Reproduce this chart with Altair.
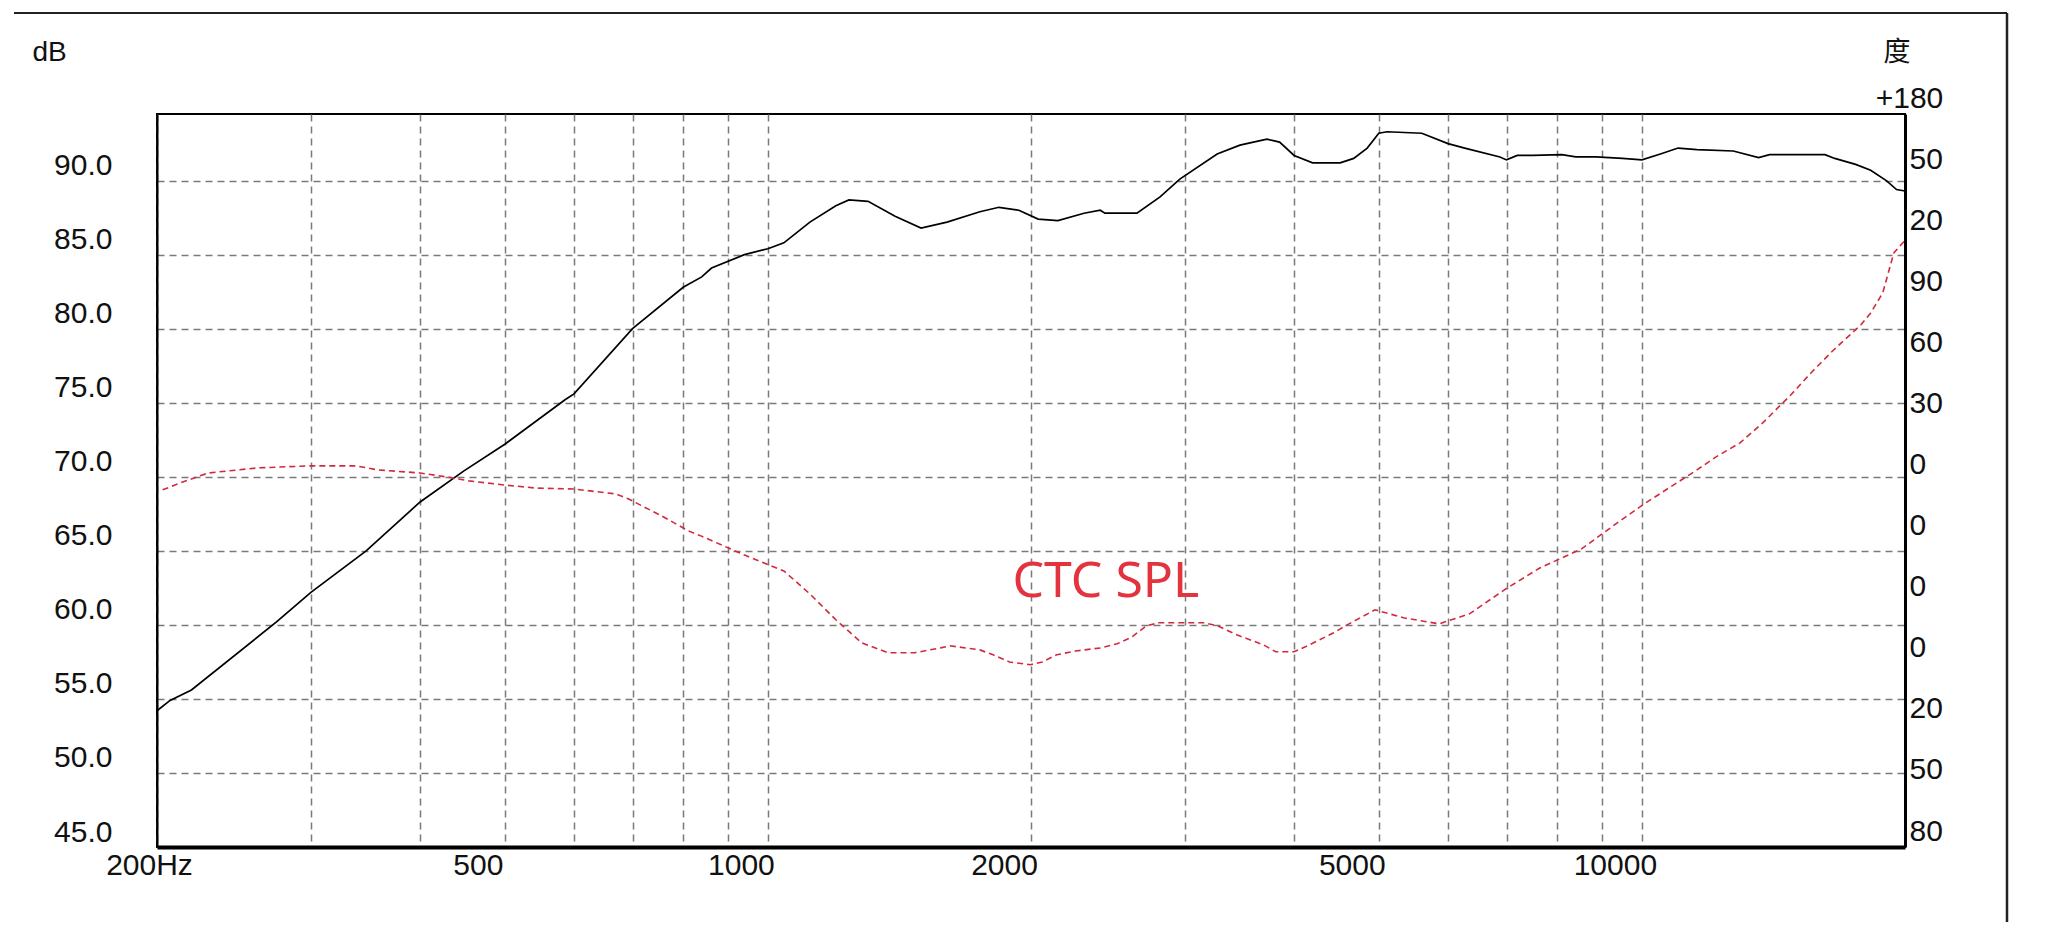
import altair as alt
import pandas as pd

# ---- data ----
spl_freq = [200, 207, 219, 274, 300, 347, 400, 449, 500, 586, 600, 700, 800, 840, 862, 940, 1000,
            1043, 1117, 1196, 1238, 1302, 1398, 1497, 1603, 1748, 1838, 1937, 2038, 2147, 2300,
            2400, 2430, 2644, 2810, 2960, 3266, 3468, 3724, 3850, 4000, 4200, 4516, 4680, 4850,
            5000, 5110, 5600, 6000, 6270, 6880, 7000, 7200, 7500, 8100, 8400, 8860, 9500, 10000,
            10500, 11000, 11560, 12720, 13600, 14000, 16200, 16620, 17560, 18270, 19040, 19560, 20000]
spl_db = [54.2, 54.9, 55.6, 60.2, 62.2, 65.0, 68.3, 70.4, 72.2, 75.2, 75.6, 80.0, 82.8, 83.5, 84.1, 85.0, 85.4,
          85.8, 87.2, 88.3, 88.7, 88.6, 87.6, 86.8, 87.2, 87.9, 88.2, 88.0, 87.4, 87.3, 87.8,
          88.0, 87.8, 87.8, 88.9, 90.1, 91.8, 92.4, 92.8, 92.6, 91.7, 91.2, 91.2, 91.5, 92.2,
          93.2, 93.3, 93.2, 92.5, 92.2, 91.6, 91.4, 91.7, 91.7, 91.75, 91.6, 91.6, 91.5, 91.4,
          91.8, 92.2, 92.1, 92.0, 91.55, 91.75, 91.75, 91.5, 91.1, 90.7, 90.0, 89.4, 89.3]

phase_freq = [203, 214, 229, 261, 300, 338, 358, 400, 428, 455, 499, 542, 600, 670, 692, 756, 811, 838,
              939, 1043, 1117, 1196, 1280, 1373, 1472, 1576, 1616, 1748, 1810, 1890, 1996, 2060, 2140,
              2250, 2405, 2510, 2610, 2710, 2800, 3160, 3270, 3440, 3690, 3810, 4000, 4120, 4440, 4600,
              4950, 5346, 5860, 6350, 6960, 7640, 8530, 9400, 10100, 11560, 12160, 12950, 13750, 14800,
              15650, 16570, 17800, 18270, 18860, 19420, 20000]
phase_deg = [-4.6, -0.7, 3.7, 6.2, 7.2, 7.2, 5.2, 3.7, 1.8, -0.2, -2.2, -3.7, -4.2, -6.6, -9.0, -17.4, -24.7, -27.2,
             -36.5, -44.4, -55.7, -68.4, -79.7, -84.6, -84.6, -82.2, -81.2, -83.2, -85.6, -89.1, -90.5, -89.1, -85.6,
             -83.7, -82.2, -80.2, -76.8, -71.4, -69.9, -69.9, -71.4, -75.8, -80.7, -84.1, -84.1, -81.7, -74.8, -70.9,
             -63.5, -67.5, -70.4, -65.5, -53.7, -43.0, -33.6, -20.4, -11.0, 5.2, 11.6, 18.5, 28.3, 42.0,
             53.3, 64.1, 76.4, 82.3, 92.1, 111.8, 118.0]

db_ticks = [45, 50, 55, 60, 65, 70, 75, 80, 85, 90]
phase_ticks = [-180, -150, -120, -90, -60, -30, 0, 30, 60, 90, 120, 150, 180]
phase_tick_text = ["80", "50", "20", "0", "0", "0", "0", "30", "60", "90", "20", "50", "+180"]
grid_freqs = [200, 300, 400, 500, 600, 700, 800, 900, 1000, 2000, 3000, 4000, 5000, 6000,
              7000, 8000, 9000, 10000]
freq_label_values = [200, 500, 1000, 2000, 5000, 10000]
freq_label_text = ["200Hz", "500", "1000", "2000", "5000", "10000"]
annotation_text = ["CTC SPL"]
annotation_freq = [2436]
annotation_db = [62.9]

# ---- tables ----
spl_df = pd.DataFrame({"freq": spl_freq, "db": spl_db})
phase_df = pd.DataFrame({"freq": phase_freq, "deg": phase_deg})
annot_df = pd.DataFrame({"freq": annotation_freq, "db": annotation_db, "text": annotation_text})

x_label_expr = " : ".join(
    f"datum.value == {v} ? '{t}'" for v, t in zip(freq_label_values, freq_label_text)
) + " : ''"
phase_label_expr = " : ".join(
    f"datum.value == {v} ? '{t}'" for v, t in zip(phase_ticks, phase_tick_text)
) + " : ''"

W, H = 1748, 733
DB_DOMAIN = [45, 94.5]
xscale = alt.Scale(type="log", domain=[200, 20000], nice=False)
LABEL_FONT = "Liberation Sans"

x_axis = alt.Axis(
    values=grid_freqs, labelExpr=x_label_expr, title=None,
    grid=True, gridColor="#7a7a7a", gridDash=[7, 5], gridWidth=1.5,
    ticks=False, domain=True, domainColor="#000", domainWidth=4,
    labelFont=LABEL_FONT, labelFontSize=30, labelColor="#111",
    labelAlign="center", labelBaseline="top", labelPadding=3,
    labelOffset={"condition": {"test": "datum.value == 200", "value": -8}, "value": -27},
    labelOverlap=False, labelFlush=False, labelBound=False,
)

y_axis = alt.Axis(
    values=db_ticks, format=".1f", orient="left",
    grid=True, gridColor="#7a7a7a", gridDash=[7, 5], gridWidth=1.5,
    ticks=False, domain=True, domainColor="#000", domainWidth=2,
    labelFont=LABEL_FONT, labelFontSize=30, labelColor="#111",
    labelPadding=45, labelOffset=-15, labelOverlap=False, labelFlush=False, labelBound=False,
    title="dB", titleAngle=0, titleAlign="left", titleBaseline="middle",
    titleX=-125, titleY=-62, titleFont=LABEL_FONT, titleFontSize=28,
    titleFontWeight="normal", titleColor="#111",
)

phase_axis = alt.Axis(
    values=phase_ticks, labelExpr=phase_label_expr, orient="right",
    grid=False, ticks=False, domain=True, domainColor="#000", domainWidth=3,
    labelFont=LABEL_FONT, labelFontSize=30, labelColor="#111",
    labelAlign={"condition": {"test": "datum.value == 180", "value": "center"}, "value": "left"},
    labelPadding=4, labelOffset=-16, labelOverlap=False, labelFlush=False, labelBound=False,
    title="度", titleAngle=0, titleAlign="left", titleBaseline="middle",
    titleX=-22, titleY=-62, titleFont="Noto Sans CJK SC", titleFontSize=27,
    titleFontWeight="normal", titleColor="#111",
)

spl = alt.Chart(spl_df).mark_line(color="#000", strokeWidth=1.7).encode(
    x=alt.X("freq:Q", scale=xscale, axis=x_axis),
    y=alt.Y("db:Q", scale=alt.Scale(domain=DB_DOMAIN, nice=False, zero=False), axis=y_axis),
)

phase = alt.Chart(phase_df).mark_line(color="#d22a3c", strokeWidth=1.6, strokeDash=[6, 4]).encode(
    x=alt.X("freq:Q", scale=xscale),
    y=alt.Y("deg:Q", scale=alt.Scale(domain=[-180, 180], nice=False, zero=False), axis=phase_axis),
)

annot = alt.Chart(annot_df).mark_text(
    font="Noto Sans", fontSize=50, color="#e2333f", align="center", baseline="middle"
).encode(
    x=alt.X("freq:Q", scale=xscale),
    y=alt.Y("db:Q", scale=alt.Scale(domain=DB_DOMAIN, nice=False, zero=False), axis=None),
    text="text:N",
)

frame_data = alt.Data(values=[{"k": 1}])
frame_top = alt.Chart(frame_data).mark_rule(color="#222", strokeWidth=2).encode(
    x=alt.value(-143), x2=alt.value(1850), y=alt.value(-101)
)
frame_right = alt.Chart(frame_data).mark_rule(color="#222", strokeWidth=2.5).encode(
    x=alt.value(1850), y=alt.value(-101), y2=alt.value(808)
)

chart = alt.layer(spl, phase, annot, frame_top, frame_right).resolve_scale(
    y="independent"
).properties(
    width=W, height=H,
    autosize=alt.AutoSizeParams(type="none"),
    padding={"left": 149, "top": 106, "right": 120, "bottom": 78},
    background="white",
).configure_view(stroke="#000", strokeWidth=2)

chart.save("out.html", embed_options={"renderer": "svg", "actions": False})
